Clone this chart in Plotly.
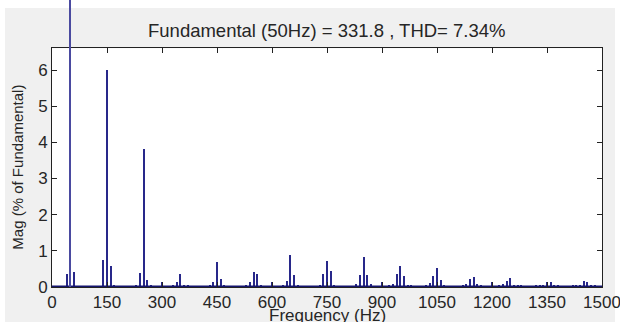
import plotly.graph_objects as go

# Harmonic spectrum (magnitude as % of the 50 Hz fundamental)
title_text = "Fundamental (50Hz) = 331.8 , THD= 7.34%"
fund_freq = [50]
fund_mag = [100.0]

freqs = [40, 60, 140, 150, 160, 170, 230, 240, 250, 260, 270, 300,
         330, 340, 350, 360, 370, 430, 440, 450, 460, 470,
         530, 540, 550, 560, 570, 600, 630, 640, 650, 660, 670,
         730, 740, 750, 760, 770, 830, 840, 850, 860, 870, 900,
         920, 930, 940, 950, 960, 970, 980,
         1020, 1030, 1040, 1050, 1060, 1070,
         1120, 1130, 1140, 1150, 1160, 1170, 1200,
         1220, 1230, 1240, 1250, 1260, 1270, 1280,
         1320, 1330, 1340, 1350, 1360, 1370, 1380,
         1420, 1430, 1440, 1450, 1460, 1470, 1480]
mags = [0.36, 0.42, 0.74, 6.0, 0.57, 0.03, 0.04, 0.38, 3.8, 0.18, 0.05, 0.12,
        0.04, 0.12, 0.34, 0.06, 0.04, 0.04, 0.12, 0.67, 0.20, 0.03,
        0.04, 0.13, 0.42, 0.35, 0.04, 0.12, 0.03, 0.16, 0.88, 0.33, 0.06,
        0.04, 0.35, 0.71, 0.43, 0.06, 0.08, 0.33, 0.81, 0.33, 0.08, 0.12,
        0.04, 0.08, 0.35, 0.57, 0.30, 0.06, 0.03,
        0.03, 0.10, 0.30, 0.52, 0.18, 0.04,
        0.03, 0.08, 0.22, 0.27, 0.08, 0.03, 0.12,
        0.03, 0.08, 0.16, 0.23, 0.04, 0.03, 0.03,
        0.02, 0.03, 0.05, 0.12, 0.12, 0.06, 0.03,
        0.02, 0.03, 0.06, 0.17, 0.12, 0.06, 0.02]

x_ticks = [0, 150, 300, 450, 600, 750, 900, 1050, 1200, 1350, 1500]
y_ticks = [0, 1, 2, 3, 4, 5, 6]
x_range = [0, 1500]
y_max = 6.6

BAR = "#28288a"
BASE = "#15156e"
FONT = "Liberation Sans, Arial, sans-serif"
MAIN_TOP = 0.8317  # top of the framed axes within the paper

fig = go.Figure()

# harmonic bars inside the framed axes
fig.add_trace(go.Bar(x=freqs, y=mags, width=3.6, marker=dict(color=BAR, line_width=0),
                     xaxis="x", yaxis="y", showlegend=False))
# bar baseline
fig.add_trace(go.Scatter(x=x_range, y=[0, 0], mode="lines",
                         line=dict(color=BASE, width=3), xaxis="x", yaxis="y",
                         showlegend=False, hoverinfo="skip"))
# fundamental, drawn on a taller transparent subplot so it runs past the frame
fig.add_trace(go.Bar(x=fund_freq, y=fund_mag, width=3.0,
                     marker=dict(color="#4a4aa0", line_width=0),
                     xaxis="x2", yaxis="y2", showlegend=False))

axis_font = dict(family=FONT, size=17, color="#262626")

fig.update_layout(
    width=620, height=322,
    margin=dict(l=52, r=18, t=0, b=35),
    paper_bgcolor="white",
    plot_bgcolor="rgba(0,0,0,0)",
    bargap=0,
    xaxis=dict(domain=[0, 1], anchor="y", range=x_range, tickvals=x_ticks,
               ticks="inside", ticklen=5, tickcolor="#222", mirror="ticks",
               showline=True, linecolor="#222", linewidth=1, showgrid=False,
               zeroline=False, tickfont=axis_font, ticklabeloverflow="allow"),
    yaxis=dict(domain=[0, MAIN_TOP], anchor="x", range=[0, y_max], tickvals=y_ticks,
               ticks="inside", ticklen=5, tickcolor="#222", mirror="ticks",
               showline=True, linecolor="#222", linewidth=1, showgrid=False,
               zeroline=False, tickfont=axis_font),
    xaxis2=dict(domain=[0, 1], anchor="y2", matches="x", visible=False),
    yaxis2=dict(domain=[0, 1], anchor="x2", range=[0, y_max / MAIN_TOP], visible=False),
    shapes=[
        dict(type="rect", xref="paper", yref="paper",
             x0=-47 / 550, x1=563 / 550, y0=-35 / 287, y1=1 - 8 / 287,
             fillcolor="#f0f0f0", line_width=0, layer="below"),
        dict(type="rect", xref="x domain", yref="y domain", x0=0, x1=1, y0=0, y1=1,
             fillcolor="white", line_width=0, layer="below"),
    ],
    annotations=[
        dict(text=title_text, xref="paper", yref="paper", x=0.5, y=1 - 30 / 287,
             xanchor="center", yanchor="middle", showarrow=False,
             font=dict(family=FONT, size=18.5, color="#262626")),
        dict(text="Frequency (Hz)", xref="paper", yref="paper", x=0.5, y=-28 / 287,
             xanchor="center", yanchor="middle", showarrow=False,
             font=dict(family=FONT, size=17, color="#262626")),
        dict(text="Mag (% of Fundamental)", xref="paper", yref="paper",
             x=-34 / 550, y=(MAIN_TOP) / 2, textangle=-90,
             xanchor="center", yanchor="middle", showarrow=False,
             font=dict(family=FONT, size=15, color="#262626")),
    ],
)

fig.write_html("out.html")
